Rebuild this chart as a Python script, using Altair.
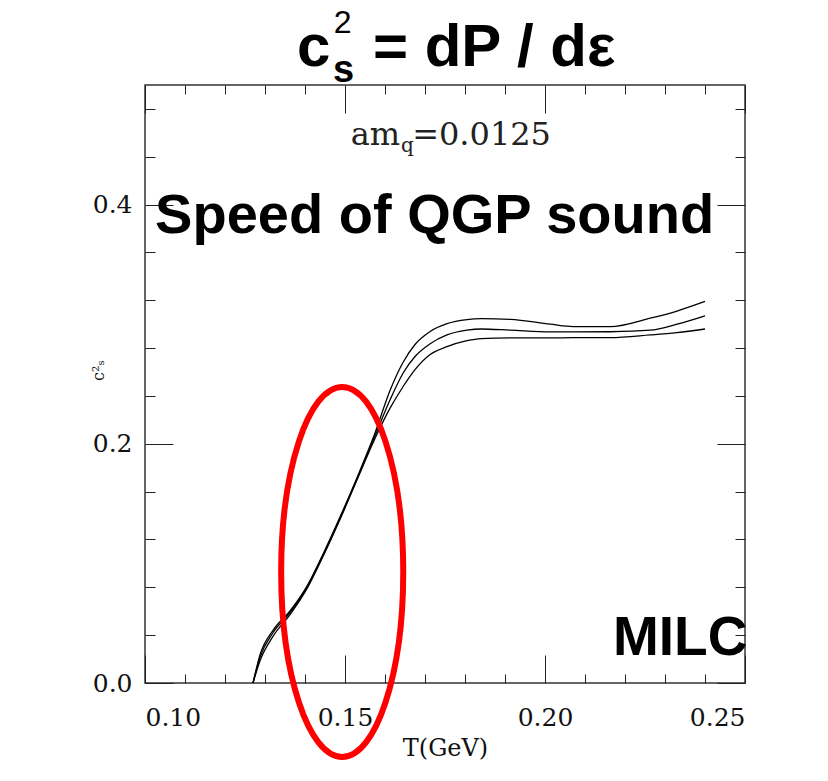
import altair as alt
import pandas as pd

# ---------------- data ----------------
T_vals = [0.1270, 0.1288, 0.1320, 0.1362, 0.1405, 0.1445, 0.1488, 0.1530, 0.1575,
          0.1613, 0.1645, 0.1675, 0.1712, 0.1755, 0.1805, 0.1840, 0.1913, 0.2013,
          0.2070, 0.2163, 0.2263, 0.2330, 0.2400]
cs2_upper = [0.000, 0.024, 0.044, 0.060, 0.081, 0.1077, 0.1391, 0.1717, 0.209,
             0.245, 0.268, 0.283, 0.2937, 0.3004, 0.3038, 0.3046, 0.304, 0.300,
             0.298, 0.298, 0.305, 0.311, 0.319]
cs2_middle = [0.000, 0.022, 0.042, 0.0586, 0.0799, 0.1067, 0.1381, 0.1707, 0.2067,
              0.237, 0.259, 0.273, 0.2835, 0.291, 0.295, 0.296, 0.295, 0.2935,
              0.2935, 0.2937, 0.295, 0.300, 0.307]
cs2_lower = [0.000, 0.019, 0.039, 0.057, 0.0789, 0.1057, 0.1371, 0.1697, 0.2045,
             0.230, 0.2477, 0.262, 0.2745, 0.2812, 0.2862, 0.288, 0.2885, 0.2885,
             0.2887, 0.2887, 0.291, 0.293, 0.296]

x_label_values = [0.10, 0.15, 0.20, 0.25]
x_major_ticks = [0.10, 0.15, 0.20, 0.25]
x_minor_ticks = [0.11, 0.12, 0.13, 0.14, 0.16, 0.17, 0.18, 0.19,
                 0.21, 0.22, 0.23, 0.24]
y_label_values = [0.0, 0.2, 0.4]
y_major_ticks = [0.0, 0.2, 0.4]
y_minor_ticks = [0.04, 0.08, 0.12, 0.16, 0.24, 0.28, 0.32, 0.36, 0.44, 0.48]

# annotation anchors (data coordinates: T, c_s^2)
ellipse_center = {"T": [0.1493], "c2": [0.0929]}
title_parts = {"label": ["c", "= dP / dε"], "T": [0.1380, 0.1570], "c2": [0.5163, 0.5163]}
title_sup = {"label": ["2"], "T": [0.1472], "c2": [0.5431]}
title_sub = {"label": ["s"], "T": [0.1470], "c2": [0.5029]}
amq_main = {"label": ["am"], "T": [0.1638], "c2": [0.4502]}
amq_sub = {"label": ["q"], "T": [0.1640], "c2": [0.4440]}
amq_val = {"label": ["=0.0125"], "T": [0.1668], "c2": [0.4502]}
speed_text = {"label": ["Speed of QGP sound"], "T": [0.1724], "c2": [0.3766]}
milc_text = {"label": ["MILC"], "T": [0.2170], "c2": [0.0234]}

# ---------------- build ----------------
rows = []
for name, vals in [("upper", cs2_upper), ("middle", cs2_middle), ("lower", cs2_lower)]:
    for t, v in zip(T_vals, vals):
        rows.append({"T": t, "c2": v, "series": name})
df = pd.DataFrame(rows)

xs = alt.Scale(domain=[0.10, 0.25], nice=False, zero=False)
ys = alt.Scale(domain=[0.0, 0.5], nice=False, zero=False)
SERIF = "DejaVu Serif"
SANS = "Liberation Sans"

curves = alt.Chart(df).mark_line(color="black", strokeWidth=1.3, interpolate="monotone").encode(
    x=alt.X("T:Q", scale=xs, axis=alt.Axis(
        orient="bottom", values=x_label_values, format=".2f", ticks=False, tickSize=0,
        domain=False, grid=False, labelFont=SERIF, labelFontSize=25, labelColor="#111",
        labelPadding=22, title="T(GeV)", titleFont=SERIF, titleFontSize=24,
        titleFontWeight="normal", titleColor="#111", titlePadding=6)),
    y=alt.Y("c2:Q", scale=ys, axis=alt.Axis(
        orient="left", values=y_label_values, format=".1f", ticks=False, tickSize=0,
        domain=False, grid=False, labelFont=SERIF, labelFontSize=25, labelColor="#111",
        labelPadding=13, title="c²ₛ", titleFont=SERIF, titleFontSize=16,
        titleFontWeight="normal", titleColor="#111", titleX=-47, titleY=285,
        titleBaseline="middle", titleAlign="center")),
    detail="series:N",
)


def tick_layer(channel, orient, values, length):
    ax = alt.Axis(orient=orient, values=values, tickSize=length, offset=-length,
                  labels=False, domain=False, grid=False, title=None, ticks=True,
                  tickColor="#222", tickWidth=1)
    if channel == "x":
        enc = dict(x=alt.X("T:Q", scale=xs, axis=ax), y=alt.Y("c2:Q", scale=ys, axis=None))
    else:
        enc = dict(x=alt.X("T:Q", scale=xs, axis=None), y=alt.Y("c2:Q", scale=ys, axis=ax))
    return alt.Chart(df).mark_point(opacity=0).encode(**enc)


tick_layers = [
    tick_layer("x", "bottom", x_major_ticks, 28),
    tick_layer("x", "bottom", x_minor_ticks, 9),
    tick_layer("x", "top", x_major_ticks, 28),
    tick_layer("x", "top", x_minor_ticks, 9),
    tick_layer("y", "left", y_major_ticks, 28),
    tick_layer("y", "left", y_minor_ticks, 10),
    tick_layer("y", "right", y_major_ticks, 28),
    tick_layer("y", "right", y_minor_ticks, 10),
]


def text_layer(d, **kw):
    return alt.Chart(pd.DataFrame(d)).mark_text(**kw).encode(
        x=alt.X("T:Q", scale=xs, axis=None),
        y=alt.Y("c2:Q", scale=ys, axis=None),
        text="label:N",
    )


texts = [
    text_layer(title_parts, font=SANS, fontSize=60, fontWeight="bold", align="left",
               baseline="alphabetic", color="black"),
    text_layer(title_sup, font=SANS, fontSize=32, fontWeight="normal", align="left",
               baseline="alphabetic", color="black"),
    text_layer(title_sub, font=SANS, fontSize=38, fontWeight="bold", align="left",
               baseline="alphabetic", color="black"),
    text_layer(amq_main, font=SERIF, fontSize=32, align="right", baseline="alphabetic",
               color="#222"),
    text_layer(amq_sub, font=SERIF, fontSize=20, align="left", baseline="alphabetic",
               color="#222"),
    text_layer(amq_val, font=SERIF, fontSize=32, align="left", baseline="alphabetic",
               color="#222"),
    text_layer(speed_text, font=SANS, fontSize=56, fontWeight="bold", align="center",
               baseline="alphabetic", color="black"),
    text_layer(milc_text, font=SANS, fontSize=55, fontWeight="bold", align="left",
               baseline="alphabetic", color="black"),
]

ellipse = alt.Chart(pd.DataFrame(ellipse_center)).mark_point(
    shape="M 0 -1 A 0.33 1 0 1 1 0 1 A 0.33 1 0 1 1 0 -1 Z",
    size=136900, filled=False, stroke="#ff0000", strokeWidth=6, opacity=1,
).encode(
    x=alt.X("T:Q", scale=xs, axis=None),
    y=alt.Y("c2:Q", scale=ys, axis=None),
)

chart = alt.layer(curves, *tick_layers, ellipse, *texts).resolve_axis(
    x="independent", y="independent"
).properties(
    width=600, height=598,
    autosize=alt.AutoSizeParams(type="none"),
    padding={"left": 145, "top": 85, "right": 83, "bottom": 98},
    background="white",
).configure_view(stroke="#333", strokeWidth=1.5)

chart.save("out.html", embed_options={"renderer": "svg", "actions": False})
